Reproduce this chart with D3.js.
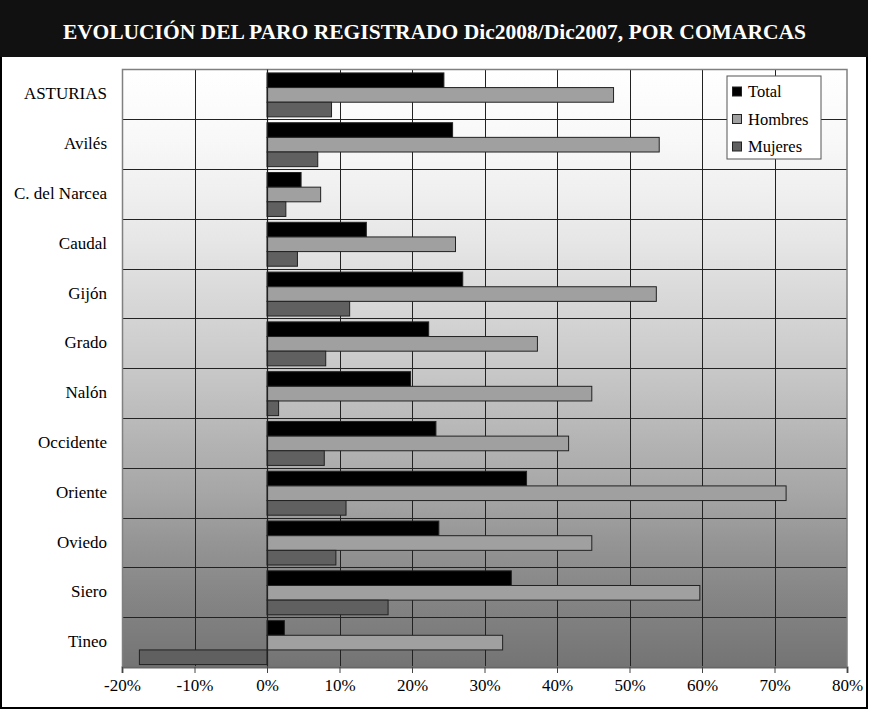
<!DOCTYPE html>
<html><head><meta charset="utf-8">
<script src="https://cdn.jsdelivr.net/npm/d3@7"></script>
<style>body{margin:0;background:#fff}svg{display:block}</style>
</head><body><svg id="c" width="869" height="709"></svg>
<script>
const title = "EVOLUCIÓN DEL PARO REGISTRADO Dic2008/Dic2007, POR COMARCAS";
const categories = ["ASTURIAS","Avilés","C. del Narcea","Caudal","Gijón","Grado","Nalón","Occidente","Oriente","Oviedo","Siero","Tineo"];
const seriesNames = ["Total","Hombres","Mujeres"];
const total   = [24.4, 25.6, 4.7, 13.7, 27.0, 22.3, 19.8, 23.3, 35.8, 23.7, 33.7, 2.4];
const hombres = [47.8, 54.1, 7.4, 26.0, 53.7, 37.3, 44.8, 41.6, 71.6, 44.8, 59.7, 32.5];
const mujeres = [8.9, 7.0, 2.6, 4.2, 11.4, 8.1, 1.6, 7.9, 10.9, 9.5, 16.7, -17.6];
const xTicks = [-20,-10,0,10,20,30,40,50,60,70,80];
const colors = ["#000000","#a0a0a0","#606060"];

const FONT = "'Liberation Serif', 'Times New Roman', serif";
const svg = d3.select("#c");
const L = 122, R = 847, T = 69.5, B = 667;

// frame and title bar
svg.append("rect").attr("x",1).attr("y",1).attr("width",866).attr("height",707)
  .attr("fill","#fff").attr("stroke","#000").attr("stroke-width",2);
svg.append("rect").attr("x",0).attr("y",0).attr("width",868).attr("height",57).attr("fill","#111");
svg.append("text").attr("x",434.5).attr("y",39).attr("text-anchor","middle")
  .attr("fill","#fff").attr("font-weight","bold").attr("font-size",21).attr("font-family",FONT)
  .attr("textLength",743).attr("lengthAdjust","spacingAndGlyphs").text(title);

const x = d3.scaleLinear().domain([-20,80]).range([L,R]);
const y = d3.scaleBand().domain(categories).range([T,B]);
const ys = d3.scaleBand().domain(seriesNames).range([0,y.bandwidth()]).paddingOuter(0.2).paddingInner(0);

// background gradient
const defs = svg.append("defs");
const g = defs.append("linearGradient").attr("id","bg").attr("x1",0).attr("y1",0).attr("x2",0).attr("y2",1);
[[0,"#ffffff"],[0.12,"#f8f8f8"],[0.2,"#f0f0f0"],[0.29,"#e6e6e6"],[0.37,"#dadada"],[0.46,"#cecece"],[0.54,"#c2c2c2"],[0.62,"#b4b4b4"],[0.71,"#a6a6a6"],[0.79,"#959595"],[0.87,"#878787"],[1,"#747474"]]
  .forEach(s=>g.append("stop").attr("offset",s[0]).attr("stop-color",s[1]));
svg.append("rect").attr("x",L).attr("y",T).attr("width",R-L).attr("height",B-T).attr("fill","url(#bg)");

// gridlines
svg.append("g").selectAll("line").data(xTicks.filter(d=>d>-20&&d<80&&d!==0)).join("line")
  .attr("x1",d=>Math.round(x(d))+0.5).attr("x2",d=>Math.round(x(d))+0.5).attr("y1",T).attr("y2",B)
  .attr("stroke","#222").attr("stroke-width",1);
svg.append("g").selectAll("line").data(categories.slice(1)).join("line")
  .attr("x1",L).attr("x2",R).attr("y1",d=>Math.round(y(d))+0.5).attr("y2",d=>Math.round(y(d))+0.5)
  .attr("stroke","#222").attr("stroke-width",1);
// plot border
svg.append("rect").attr("x",L+0.5).attr("y",T).attr("width",R-L-0.5).attr("height",B-T)
  .attr("fill","none").attr("stroke","#808080").attr("stroke-width",1.5);

// bars
const seriesData = [total, hombres, mujeres];
seriesData.forEach((vals,si)=>{
  svg.append("g").selectAll("rect").data(vals).join("rect")
    .attr("x",d=>x(Math.min(0,d)))
    .attr("width",d=>Math.abs(x(d)-x(0)))
    .attr("y",(d,i)=>y(categories[i])+ys(seriesNames[si])+0.5)
    .attr("height",ys.bandwidth())
    .attr("fill",colors[si]).attr("stroke","#222").attr("stroke-width",1);
});

// zero axis with ticks
const x0 = Math.round(x(0))+0.5;
svg.append("line").attr("x1",x0).attr("x2",x0).attr("y1",T).attr("y2",B).attr("stroke","#222").attr("stroke-width",1.2);
svg.append("g").selectAll("line").data(categories.slice(1)).join("line")
  .attr("x1",x0-4).attr("x2",x0).attr("y1",d=>Math.round(y(d))+0.5).attr("y2",d=>Math.round(y(d))+0.5)
  .attr("stroke","#222");

// x axis
const xa = svg.append("g").attr("transform",`translate(0,${B})`)
  .call(d3.axisBottom(x).tickValues(xTicks).tickFormat(d=>d+"%").tickSize(6).tickPadding(6));
xa.attr("font-family",FONT);
xa.select(".domain").attr("stroke","#666").attr("stroke-width",2);
xa.selectAll(".tick line").attr("stroke","#444");
xa.selectAll("text").attr("font-size",17).attr("fill","#000").attr("font-family",FONT);

// category labels
svg.append("g").selectAll("text").data(categories).join("text")
  .attr("x",107).attr("y",d=>y(d)+y.bandwidth()/2+5)
  .attr("text-anchor","end").attr("font-size",17).attr("font-family",FONT).attr("fill","#000").text(d=>d);

// legend
const lg = svg.append("g");
lg.append("rect").attr("x",727).attr("y",76).attr("width",94).attr("height",83)
  .attr("fill","#fff").attr("stroke","#555").attr("stroke-width",1);
seriesNames.forEach((n,i)=>{
  const cy = 92 + i*27.5;
  lg.append("rect").attr("x",732.5).attr("y",cy-5).attr("width",9).attr("height",9)
    .attr("fill",colors[i]).attr("stroke","#222");
  lg.append("text").attr("x",748).attr("y",cy+5).attr("font-size",16.5).attr("font-family",FONT).attr("fill","#000").text(n);
});
</script></body></html>
